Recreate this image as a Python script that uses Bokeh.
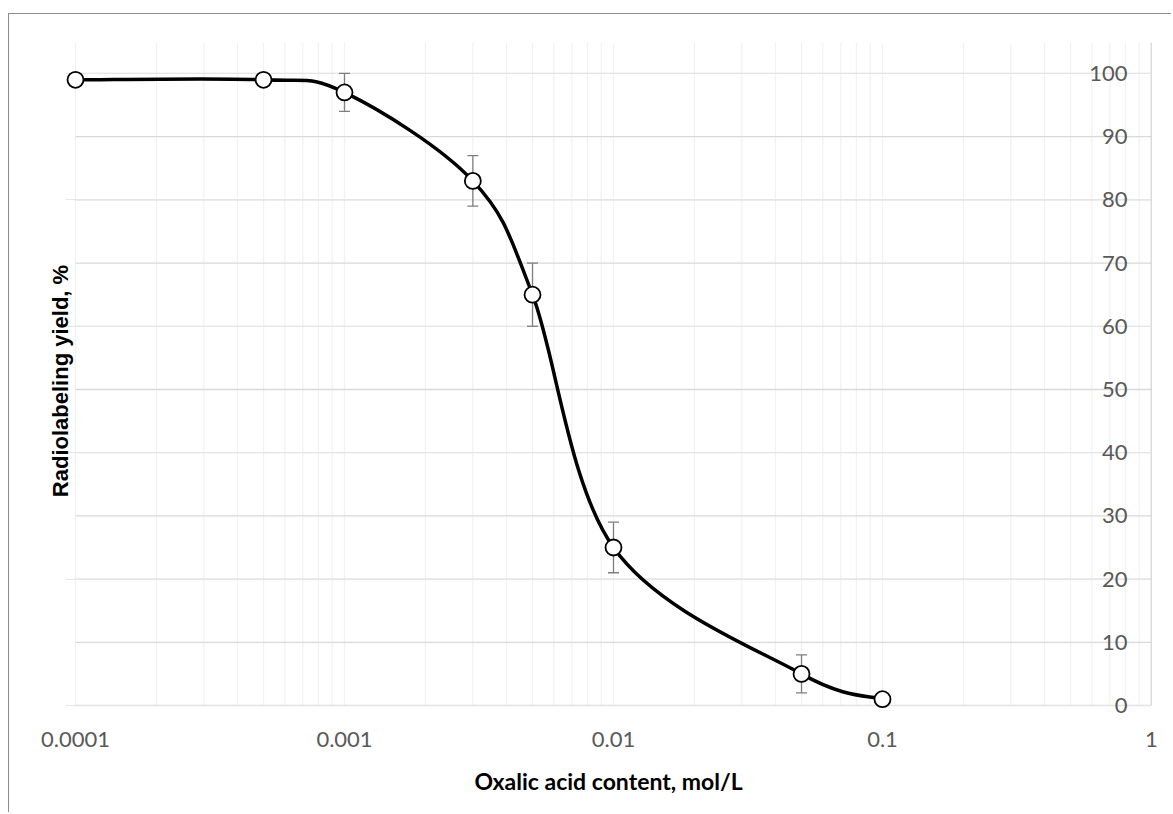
import numpy as np
from bokeh.plotting import figure
from bokeh.models import (Range1d, FixedTicker, LinearAxis, CustomJSTickFormatter,
                          Whisker, TeeHead, ColumnDataSource)
from bokeh.embed import file_html
from bokeh.resources import INLINE

# ---- data ----
conc = [0.0001, 0.0005, 0.001, 0.003, 0.005, 0.01, 0.05, 0.1]
yield_pct = [99, 99, 97, 83, 65, 25, 5, 1]
err = [0, 0, 3, 4, 5, 4, 3, 0]
x_ticks = [0.0001, 0.001, 0.01, 0.1, 1]
x_tick_labels = ["0.0001", "0.001", "0.01", "0.1", "1"]
y_ticks = [0, 10, 20, 30, 40, 50, 60, 70, 80, 90, 100]
y_tick_labels = ["0", "10", "20", "30", "40", "50", "60", "70", "80", "90", "100"]
x_title = "Oxalic acid content, mol/L"
y_title = "Radiolabeling yield, %"

TICK_FONT = "Lato"
TICK_COLOR = "#595959"

# layout geometry (pixels)
PLOT_W = 1076      # width of the x-span 0.0001..1
PLOT_H = 632       # height of the y-span 0..100
EXT_L = 10         # extra frame room on the left so end markers are not clipped
EXT_B = 14         # extra frame room at bottom so the "0" label is not clipped
Y_TOP = 104.9

lo_dec = np.log10(x_ticks[0]); hi_dec = np.log10(x_ticks[-1])
x_start = 10 ** (lo_dec - (hi_dec - lo_dec) * EXT_L / PLOT_W)
y_start = -(y_ticks[-1] - y_ticks[0]) * EXT_B / PLOT_H

p = figure(width=1163, height=799, x_axis_type="log", y_axis_location=None,
           x_range=Range1d(x_start, x_ticks[-1]), y_range=Range1d(y_start, Y_TOP),
           output_backend="svg", toolbar_location=None,
           min_border_left=66 - EXT_L, min_border_right=21, min_border_top=28,
           min_border_bottom=108 - EXT_B)
p.margin = (13, 0, 0, 8)
p.styles = {"border-top": "1px solid #8c8c8c", "border-left": "1px solid #8c8c8c"}
p.outline_line_color = None
p.background_fill_color = "white"
p.border_fill_color = "white"

# minor log grid positions (2..9 in each decade)
minor = [k * 10.0 ** e for e in range(-4, 0) for k in range(2, 10)]
xt = FixedTicker(ticks=x_ticks, minor_ticks=minor)
xa = p.xaxis[0]
xa.ticker = xt
xa.formatter = CustomJSTickFormatter(args=dict(vals=x_ticks, labs=x_tick_labels), code="""
for (let i = 0; i < vals.length; i++) {
  if (Math.abs(Math.log10(tick) - Math.log10(vals[i])) < 1e-6) return labs[i];
}
return '';
""")
xa.major_label_text_font = TICK_FONT
xa.major_label_text_font_size = "22px"
xa.major_label_text_color = TICK_COLOR
xa.major_label_standoff = 22 - EXT_B
xa.major_tick_line_color = None
xa.minor_tick_line_color = None
xa.major_tick_out = 0
xa.major_tick_in = 0
xa.axis_line_color = None
xa.axis_label = x_title
xa.axis_label_text_font = TICK_FONT
xa.axis_label_text_font_style = "bold"
xa.axis_label_text_font_size = "23px"
xa.axis_label_text_color = "black"
xa.axis_label_standoff = 17
p.xgrid.grid_line_color = None
p.xgrid.minor_grid_line_color = None

yt = FixedTicker(ticks=y_ticks)
# tick labels of the value axis: drawn just left of the right edge (x = 1)
inner = LinearAxis(ticker=yt, fixed_location=x_ticks[-1],
                   axis_line_color=None, major_tick_line_color=None,
                   minor_tick_line_color=None, major_tick_out=0, major_tick_in=0,
                   major_label_standoff=24,
                   major_label_overrides={v: s for v, s in zip(y_ticks, y_tick_labels)},
                   major_label_text_font=TICK_FONT, major_label_text_font_size="22px",
                   major_label_text_color=TICK_COLOR)
p.add_layout(inner, "left")

left = LinearAxis(ticker=FixedTicker(ticks=[]), axis_label=y_title,
                  axis_line_color=None, major_tick_line_color=None,
                  minor_tick_line_color=None, major_tick_out=0, major_tick_in=0,
                  major_label_standoff=0, axis_label_standoff=3 - EXT_L,
                  axis_label_text_font="Liberation Sans",
                  axis_label_text_font_style="bold",
                  axis_label_text_font_size="22px",
                  axis_label_text_color="black")
p.add_layout(left, "left")

# vertical gridlines (decades + 2..9 minors) from 0 to the top of the plot area
vx = x_ticks + minor
p.segment(x0=vx, y0=[y_ticks[0]] * len(vx), x1=vx, y1=[Y_TOP] * len(vx),
          line_color="#F2F2F2", line_width=1.3, level="underlay")
# horizontal gridlines spanning exactly 0.0001 .. 1
p.segment(x0=[x_ticks[0]] * len(y_ticks), y0=y_ticks,
          x1=[x_ticks[-1]] * len(y_ticks), y1=y_ticks,
          line_color="#D9D9D9", line_width=1.3, level="underlay")
# value-axis line at the right edge
p.segment(x0=[x_ticks[-1]], y0=[y_ticks[0]], x1=[x_ticks[-1]], y1=[Y_TOP],
          line_color="#BFBFBF", line_width=1.5, level="underlay")

# error bars
eb = [(c, y - e, y + e) for c, y, e in zip(conc, yield_pct, err) if e > 0]
esrc = ColumnDataSource(dict(x=[a[0] for a in eb], lo=[a[1] for a in eb], hi=[a[2] for a in eb]))
wh = Whisker(base="x", lower="lo", upper="hi", source=esrc, dimension="height",
             line_color="#7F7F7F", line_width=1.3,
             upper_head=TeeHead(size=11, line_color="#7F7F7F", line_width=1.3),
             lower_head=TeeHead(size=11, line_color="#7F7F7F", line_width=1.3))
wh.level = "underlay"
p.add_layout(wh)

# smoothed line (Catmull-Rom style bezier through the points, in log-x space)
lx = np.log10(np.array(conc, dtype=float))
yy = np.array(yield_pct, dtype=float)
n = len(lx)
x0s, y0s, x1s, y1s, cx0, cy0, cx1, cy1 = ([] for _ in range(8))
for i in range(n - 1):
    i0 = max(i - 1, 0)
    i3 = min(i + 2, n - 1)
    c1x = lx[i] + (lx[i + 1] - lx[i0]) / 6.0
    c1y = yy[i] + (yy[i + 1] - yy[i0]) / 6.0
    c2x = lx[i + 1] - (lx[i3] - lx[i]) / 6.0
    c2y = yy[i + 1] - (yy[i3] - yy[i]) / 6.0
    x0s.append(10 ** lx[i]); y0s.append(yy[i])
    x1s.append(10 ** lx[i + 1]); y1s.append(yy[i + 1])
    cx0.append(10 ** c1x); cy0.append(c1y)
    cx1.append(10 ** c2x); cy1.append(c2y)
p.bezier(x0=x0s, y0=y0s, x1=x1s, y1=y1s, cx0=cx0, cy0=cy0, cx1=cx1, cy1=cy1,
         line_color="black", line_width=3.5)

p.scatter(conc, yield_pct, size=16, marker="circle", fill_color="white",
          line_color="black", line_width=1.8)

open("out.html", "w").write(file_html(p, INLINE))
